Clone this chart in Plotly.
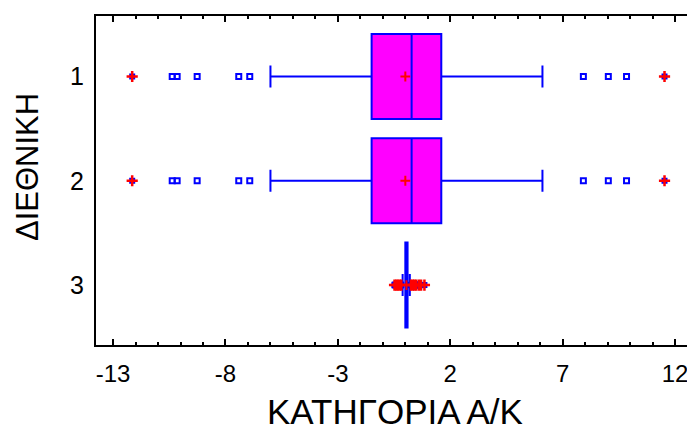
import plotly.graph_objects as go

# Box plot summary per group (ΔΙΕΘΝΙΚΗ = 1, 2, 3)
groups = [1, 2, 3]
q1 = [-1.5, -1.5, 0.0]
median = [0.28, 0.28, 0.05]
q3 = [1.6, 1.6, 0.1]
lower_fence = [-6.0, -6.0, -0.12]
upper_fence = [6.1, 6.1, 0.2]
means = [0.0, 0.0, 0.05]

# Outside points (squares) and far-outside points (square + cross)
outside_vals = {
    1: [-10.37, -10.15, -9.26, -7.41, -6.92, 7.92, 9.03, 9.84],
    2: [-10.37, -10.15, -9.26, -7.41, -6.92, 7.92, 9.03, 9.84],
    3: [-0.45, -0.38, -0.3, -0.22, 0.3, 0.42, 0.5, 0.6],
}
far_vals = {
    1: [-12.15, 11.53],
    2: [-12.15, 11.53],
    3: [-0.48, -0.4, -0.33, -0.25, -0.18, 0.25, 0.33, 0.4, 0.48, 0.6, 0.7, 0.85],
}

x_ticks = [-13, -8, -3, 2, 7, 12]

BLUE = "#0000FF"
MAGENTA = "#FF00FF"
RED = "#FF0000"
FONT = "Liberation Sans, Arial, sans-serif"

fig = go.Figure()

for i, g in enumerate(groups):
    fig.add_trace(go.Box(
        y=[g], q1=[q1[i]], median=[median[i]], q3=[q3[i]],
        lowerfence=[lower_fence[i]], upperfence=[upper_fence[i]],
        orientation="h", boxpoints=False,
        fillcolor=MAGENTA, line=dict(color=BLUE, width=2),
        width=0.815, whiskerwidth=0.26, showlegend=False,
    ))

# outside points
ox, oy = [], []
for g in groups:
    ox += outside_vals[g]
    oy += [g] * len(outside_vals[g])
fig.add_trace(go.Scatter(
    x=ox, y=oy, mode="markers", showlegend=False,
    marker=dict(symbol="square-open", size=5, color=BLUE, line=dict(width=2, color=BLUE)),
))

# far-outside points: blue square with red cross
fx, fy = [], []
for g in groups:
    fx += far_vals[g]
    fy += [g] * len(far_vals[g])
fig.add_trace(go.Scatter(
    x=fx, y=fy, mode="markers", showlegend=False,
    marker=dict(symbol="square", size=6, color=BLUE, line=dict(width=0)),
))
fig.add_trace(go.Scatter(
    x=fx, y=fy, mode="markers", showlegend=False,
    marker=dict(symbol="cross-thin", size=8, color=RED, line=dict(width=2.5, color=RED)),
))

# means
fig.add_trace(go.Scatter(
    x=means, y=groups, mode="markers", showlegend=False,
    marker=dict(symbol="cross-thin", size=7, color=RED, line=dict(width=2, color=RED)),
))

fig.update_layout(
    width=687, height=431,
    margin=dict(l=96, r=0, t=16, b=86),
    paper_bgcolor="white", plot_bgcolor="white",
    font=dict(family=FONT, color="black"),
    xaxis=dict(
        range=[-13.76, 12.53], tickvals=x_ticks, ticktext=[str(v) for v in x_ticks],
        ticks="inside", ticklen=6, tickwidth=1.5, tickcolor="black",
        minor=dict(dtick=1, tick0=0, ticks="inside", ticklen=3, tickwidth=1.5, tickcolor="black"),
        showline=True, linecolor="black", linewidth=2, mirror="allticks",
        showgrid=False, zeroline=False, ticklabeloverflow="allow",
        ticklabelstandoff=6,
        tickfont=dict(size=24, family=FONT, color="black"),
    ),
    yaxis=dict(
        range=[3.575, 0.42], tickvals=groups, ticktext=[str(g) for g in groups],
        ticks="", showline=True, linecolor="black", linewidth=2,
        showgrid=False, zeroline=False, ticklabelstandoff=5,
        tickfont=dict(size=25, family=FONT, color="black"),
    ),
    annotations=[
        dict(text="ΚΑΤΗΓΟΡΙΑ Α/Κ", x=395, y=431 - 411, xref="paper", yref="paper",
             showarrow=False, font=dict(size=35, family=FONT, color="black")),
        dict(text="ΔΙΕΘΝΙΚΗ", x=27, y=431 - 167, xref="paper", yref="paper",
             showarrow=False, textangle=-90, font=dict(size=31, family=FONT, color="black")),
    ],
)

# annotation positions given in pixels -> convert to paper coordinates
plot_w = 687 - 96
plot_h = 431 - 16 - 86
for ann in fig.layout.annotations:
    px, py = ann.x, ann.y
    ann.x = (px - 96) / plot_w
    ann.y = (py - 86) / plot_h
    ann.xanchor = "center"
    ann.yanchor = "middle"

fig.write_html("out.html")
